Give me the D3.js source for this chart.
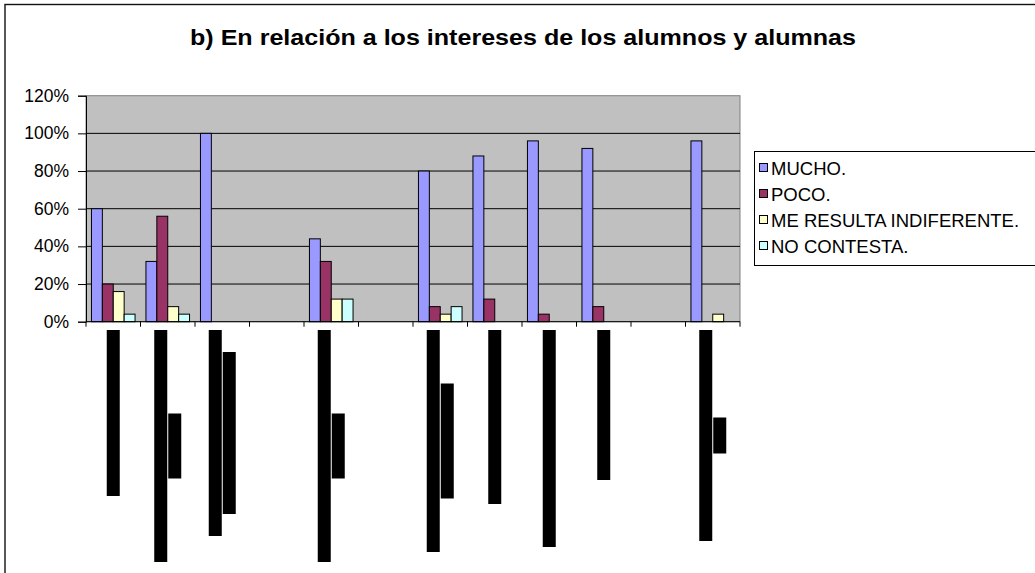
<!DOCTYPE html>
<html>
<head>
<meta charset="utf-8">
<script src="https://cdn.jsdelivr.net/npm/d3@7.9.0/dist/d3.min.js"></script>
<style>
  body { margin: 0; background: #fff; }
  svg { display: block; font-family: "Liberation Sans", Arial, sans-serif; }
</style>
</head>
<body>
<svg id="chart"></svg>
<script>
// categories (their labels are blacked out in the source image)
const categories = ["c1", "c2", "c3", "c4", "c5", "c6", "c7", "c8", "c9", "c10", "c11", "c12"];
const seriesNames = ["MUCHO.", "POCO.", "ME RESULTA INDIFERENTE.", "NO CONTESTA."];
const mucho       = [60, 32, 100, 0, 44, 0, 80, 88, 96, 92, 0, 96];
const poco        = [20, 56, 0,   0, 32, 0, 8,  12, 4,  8,  0, 0];
const indiferente = [16, 8,  0,   0, 12, 0, 4,  0,  0,  0,  0, 4];
const noContesta  = [4,  4,  0,   0, 12, 0, 8,  0,  0,  0,  0, 0];
const yTicks = [0, 20, 40, 60, 80, 100, 120];
// lengths (px) of the redacted label lines under each category
const labelLines = [[166], [232, 65], [206, 162], [], [232, 65], [], [222, 115], [174], [217], [150], [], [211, 36]];

const colors = ["#9999FF", "#993366", "#FFFFCC", "#CCFFFF"];
const seriesValues = [mucho, poco, indiferente, noContesta];

const width = 1035, height = 573;
const plot = { left: 86, right: 740, top: 95.7, bottom: 321.7 };

const svg = d3.select('#chart')
  .attr('width', width)
  .attr('height', height);

// outer chart border (runs off the right/bottom of the picture)
svg.append('rect')
  .attr('x', 5).attr('y', 4.5)
  .attr('width', width + 20).attr('height', height + 20)
  .attr('fill', '#fff')
  .attr('stroke', '#111')
  .attr('stroke-width', 1.4);

// title
svg.append('text')
  .attr('x', 523).attr('y', 45)
  .attr('text-anchor', 'middle')
  .attr('font-size', 22)
  .attr('font-weight', 'bold')
  .attr('textLength', 666)
  .attr('lengthAdjust', 'spacingAndGlyphs')
  .text('b) En relación a los intereses de los alumnos y alumnas');

const x = d3.scaleBand()
  .domain(categories)
  .range([plot.left, plot.right]);

const bw = x.bandwidth();
const xs = d3.scaleBand()
  .domain(seriesNames)
  .range([bw * 0.1, bw * 0.9]);

const y = d3.scaleLinear()
  .domain([0, 120])
  .range([plot.bottom, plot.top]);

// plot area
svg.append('rect')
  .attr('x', plot.left).attr('y', plot.top)
  .attr('width', plot.right - plot.left).attr('height', plot.bottom - plot.top)
  .attr('fill', '#C0C0C0')
  .attr('stroke', '#808080');

// gridlines
svg.append('g')
  .selectAll('line')
  .data(yTicks.filter(d => d > 0 && d < 120))
  .join('line')
  .attr('x1', plot.left).attr('x2', plot.right)
  .attr('y1', d => y(d)).attr('y2', d => y(d))
  .attr('stroke', '#000');

// bars
const barData = [];
categories.forEach((c, i) => {
  seriesNames.forEach((s, j) => {
    if (seriesValues[j][i] > 0) barData.push({ c, s, j, v: seriesValues[j][i] });
  });
});

svg.append('g')
  .selectAll('rect')
  .data(barData)
  .join('rect')
  .attr('x', d => x(d.c) + xs(d.s))
  .attr('y', d => y(d.v))
  .attr('width', xs.bandwidth())
  .attr('height', d => y(0) - y(d.v))
  .attr('fill', d => colors[d.j])
  .attr('stroke', '#000')
  .attr('stroke-width', 1);

// y axis
const yAxis = svg.append('g')
  .attr('transform', `translate(${plot.left},0)`)
  .call(d3.axisLeft(y).tickValues(yTicks).tickFormat(d => d + '%').tickSize(8).tickPadding(9));
yAxis.select('.domain').attr('stroke', '#000');
yAxis.selectAll('text').attr('font-size', 17.5).attr('font-family', '"Liberation Sans", Arial, sans-serif').attr('fill', '#000');
yAxis.selectAll('line').attr('stroke', '#000');

// x axis: baseline + boundary ticks
svg.append('line')
  .attr('x1', plot.left).attr('x2', plot.right)
  .attr('y1', y(0)).attr('y2', y(0))
  .attr('stroke', '#000');
const boundaries = categories.map(c => x(c)).concat([plot.right]);
svg.append('g')
  .selectAll('line')
  .data(boundaries)
  .join('line')
  .attr('x1', d => d).attr('x2', d => d)
  .attr('y1', y(0)).attr('y2', y(0) + 5)
  .attr('stroke', '#000');

// redacted category labels (black blocks)
const lineW = 13, lineStep = 14, labelTop = 330;
categories.forEach((c, i) => {
  const lines = labelLines[i];
  if (!lines.length) return;
  const cx = x(c) + bw / 2;
  const cy = labelTop + d3.max(lines) / 2;
  svg.append('g')
    .selectAll('rect')
    .data(lines)
    .join('rect')
    .attr('x', (d, k) => cx + (k - (lines.length - 1) / 2) * lineStep - lineW / 2)
    .attr('y', d => cy - d / 2)
    .attr('width', lineW)
    .attr('height', d => d)
    .attr('fill', '#000');
});

// legend
const legend = svg.append('g');
legend.append('rect')
  .attr('x', 754.5).attr('y', 151.5)
  .attr('width', 300).attr('height', 114)
  .attr('fill', '#fff')
  .attr('stroke', '#000');

const items = legend.selectAll('g.item')
  .data(seriesNames)
  .join('g')
  .attr('class', 'item')
  .attr('transform', (d, i) => `translate(759,${168 + i * 26})`);

items.append('rect')
  .attr('x', 0.5).attr('y', -4.5)
  .attr('width', 8).attr('height', 8)
  .attr('fill', (d, i) => colors[i])
  .attr('stroke', '#000');

items.append('text')
  .attr('x', 12).attr('y', 6.5)
  .attr('font-size', 18.5)
  .attr('fill', '#000')
  .text(d => d);
</script>
</body>
</html>
